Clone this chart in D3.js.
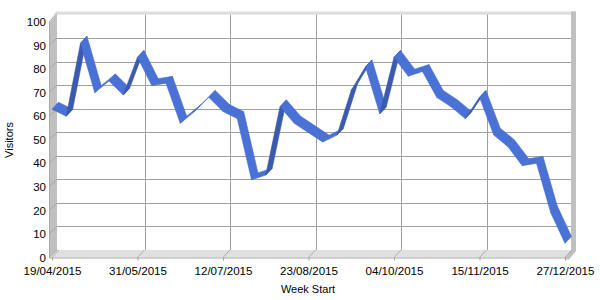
<!DOCTYPE html>
<html><head><meta charset="utf-8">
<script src="https://cdn.jsdelivr.net/npm/d3@7"></script>
<style>
body{margin:0;background:#fff}
svg{display:block}
text{font-family:"Liberation Sans",Arial,sans-serif;fill:#000}
</style>
</head><body>
<svg id="c" width="600" height="300"></svg>
<script>
const weeks = ["19/04/2015","26/04/2015","03/05/2015","10/05/2015","17/05/2015","24/05/2015",
  "31/05/2015","07/06/2015","14/06/2015","21/06/2015","28/06/2015","05/07/2015",
  "12/07/2015","19/07/2015","26/07/2015","02/08/2015","09/08/2015","16/08/2015",
  "23/08/2015","30/08/2015","06/09/2015","13/09/2015","20/09/2015","27/09/2015",
  "04/10/2015","11/10/2015","18/10/2015","25/10/2015","01/11/2015","08/11/2015",
  "15/11/2015","22/11/2015","29/11/2015","06/12/2015","13/12/2015","20/12/2015","27/12/2015"];
const visitors = [63,60,91,70,75,69,85,73,74,57,62,68,62,59,33,35,64,57,53,49,52,71,81,61,85,77,79,68,64,59,68,52,47,39,40,19,6];
const xTickLabels = ["19/04/2015","31/05/2015","12/07/2015","23/08/2015","04/10/2015","15/11/2015","27/12/2015"];
const yTicks = [0,10,20,30,40,50,60,70,80,90,100];

const parse = d3.timeParse("%d/%m/%Y");
const fmt = d3.timeFormat("%d/%m/%Y");
const DX = 7, DY = -7.5;
const x = d3.scaleTime().domain([parse(weeks[0]), parse(weeks[weeks.length-1])]).range([52, 565]);
const y = d3.scaleLinear().domain([0, 100]).range([257.5, 22]);

const svg = d3.select("#c");
const X0 = 50, X1 = 565;
const yb0 = y(0), yb1 = y(100);

// back wall
svg.append("rect").attr("x", X0+DX).attr("y", yb1+DY).attr("width", X1-X0).attr("height", yb0-yb1).attr("fill", "#fff");
// top edge strip
svg.append("rect").attr("x", X0+DX).attr("y", yb1+DY-3).attr("width", X1-X0+3).attr("height", 3).attr("fill", "#d8d8d8");
svg.append("line").attr("x1", X0+DX).attr("x2", X1+DX+3).attr("y1", yb1+DY-2.5).attr("y2", yb1+DY-2.5).attr("stroke", "#ececec");
// right strip
svg.append("rect").attr("x", X1+DX-1).attr("y", yb1+DY-3).attr("width", 5).attr("height", yb0-yb1+4).attr("fill", "#c0c0c0");
svg.append("path").attr("d", `M${X1+DX-1},${yb0+DY+1}L${X1+DX+4},${yb0+DY+1}L${X1+4},${yb0+2}L${X1},${yb0+2}Z`).attr("fill", "#c0c0c0");

// left wall
svg.append("path").attr("d", `M${X0},${yb0}L${X0},${yb1}L${X0+DX},${yb1+DY}L${X0+DX},${yb0+DY}Z`).attr("fill", "#c0c0c0");
svg.append("path").attr("d", `M${X0-1},${yb1}L${X0+DX-1},${yb1+DY-3}L${X0+DX},${yb1+DY-3}L${X0+DX},${yb1+DY}L${X0},${yb1}Z`).attr("fill", "#d8d8d8");
// floor
svg.append("path").attr("d", `M${X0},${yb0}L${X1},${yb0}L${X1+DX},${yb0+DY}L${X0+DX},${yb0+DY}Z`).attr("fill", "#e0e0e0");

// gridlines horizontal on back wall + diagonal on left wall
yTicks.forEach(v => {
  const yy = Math.round(y(v)+DY)+0.5;
  if (v > 0 && v < 100) {
    svg.append("line").attr("x1", X0+DX).attr("x2", X1+DX-1).attr("y1", yy).attr("y2", yy).attr("stroke", "#a0a0a0");
  }
  svg.append("line").attr("x1", X0-1).attr("y1", y(v)).attr("x2", X0+DX).attr("y2", y(v)+DY).attr("stroke", "#a0a0a0").attr("stroke-width", 0.8);
});
// vertical gridlines on back wall + diagonal ticks on floor
xTickLabels.forEach((t, i) => {
  const xx = x(parse(t));
  if (i > 0 && i < xTickLabels.length-1) {
    const xb = Math.round(xx+DX)+0.5;
    svg.append("line").attr("x1", xb).attr("x2", xb).attr("y1", yb1+DY).attr("y2", yb0+DY).attr("stroke", "#a0a0a0");
  }
  svg.append("line").attr("x1", xx).attr("y1", yb0).attr("x2", xx+DX).attr("y2", yb0+DY).attr("stroke", "#a0a0a0").attr("stroke-width", 0.8);
});

// front edges
svg.append("path").attr("d", `M${X0-0.5},${yb1}L${X0-0.5},${yb0+0.5}L${X1},${yb0+0.5}L${X1+DX},${yb0+DY}`).attr("fill", "none").attr("stroke", "#a8a8a8");

// ribbon
const F = 0.92;
const pts = weeks.map((w, i) => [x(parse(w)), y(visitors[i])]);
for (let i = 0; i < pts.length-1; i++) {
  const [x0, y0] = pts[i], [x1, y1] = pts[i+1];
  const sx = x1-x0, sy = y1-y0;
  const cross = sx*DY - sy*DX;
  const col = cross < 0 ? "#4a72d6" : "#3a5bb0";
  const d = `M${x0},${y0}L${x1},${y1}L${x1+DX*F},${y1+DY*F}L${x0+DX*F},${y0+DY*F}Z`;
  svg.append("path").attr("d", d).attr("fill", col).attr("stroke", cross < 0 ? "#4068c8" : "#3656a6").attr("stroke-width", 0.6).attr("stroke-linejoin", "round");
}

// axes
const ya = d3.axisLeft(y).tickValues(yTicks).tickSize(0).tickPadding(4);
const gy = svg.append("g").attr("transform", `translate(${X0},0)`).call(ya);
gy.select(".domain").remove();
gy.selectAll("text").style("font-size", "11.5px").attr("font-family", null);

const xa = d3.axisBottom(x).tickValues(xTickLabels.map(parse)).tickFormat(fmt).tickSize(3).tickPadding(6);
const gx = svg.append("g").attr("transform", `translate(0,${yb0})`).call(xa);
gx.select(".domain").remove();
gx.selectAll("line").attr("stroke", "#a0a0a0");
gx.selectAll("text").style("font-size", "11.6px").attr("font-family", null);

svg.append("text").attr("transform", "translate(13,140) rotate(-90)").attr("text-anchor", "middle").style("font-size", "11px").text("Visitors");
svg.append("text").attr("x", 308).attr("y", 293).attr("text-anchor", "middle").style("font-size", "11px").text("Week Start");
</script>
</body></html>
